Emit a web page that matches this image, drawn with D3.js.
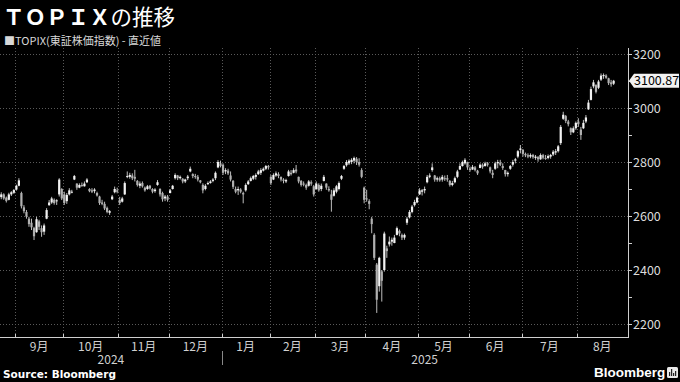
<!DOCTYPE html>
<html>
<head>
<meta charset="utf-8" />
<script src="https://d3js.org/d3.v7.min.js"></script>
<style>
  body { margin: 0; background: #000; }
  svg { display: block; font-family: "Noto Sans CJK JP", "Noto Sans", sans-serif; }
  .grid line { stroke: #5a5a5a; stroke-dasharray: 1,2; }
  .axis-line { stroke: #cfcfcf; stroke-width: 1; }
</style>
</head>
<body>
<svg id="chart" width="680" height="382"></svg>
<script>
// month labels and how many trading days each month has in view
var monthLabels = ["8月", "9月", "10月", "11月", "12月", "1月", "2月", "3月", "4月", "5月", "6月", "7月", "8月"];
var monthDays = [6, 19, 22, 20, 21, 19, 18, 20, 21, 20, 21, 22, 15];
var yearLabels = ["2024", "2025"];
var yearStartMonth = [0, 5];

var yTicks = [2200, 2400, 2600, 2800, 3000, 3200];
var yMinorTicks = [2300, 2500, 2700, 2900, 3100];
var lastValue = 3100.87;

// daily candles [open, high, low, close], Aug 23 2024 - Aug 22 2025
var ohlc = [
  // Aug
  [2670,2688,2662,2680],[2680,2684,2660,2665],[2668,2672,2650,2656],[2660,2686,2658,2680],[2680,2692,2674,2688],[2686,2700,2682,2696],
  // Sep
  [2698,2716,2694,2712],[2712,2740,2710,2732],[2685,2690,2628,2636],[2632,2640,2610,2618],[2615,2622,2590,2598],
  [2590,2597,2560,2570],[2575,2590,2548,2558],[2555,2560,2511,2525],[2540,2597,2538,2588],[2580,2586,2548,2560],
  [2555,2565,2523,2540],[2542,2572,2530,2565],[2590,2629,2588,2622],[2640,2659,2638,2650],
  [2650,2671,2645,2665],[2660,2665,2642,2648],[2655,2662,2641,2658],[2680,2740,2672,2735],[2700,2703,2659,2665],
  // Oct
  [2680,2690,2641,2648],[2655,2685,2645,2678],[2680,2703,2676,2695],[2690,2697,2684,2690],
  [2735,2752,2733,2748],[2720,2721,2697,2705],[2705,2721,2703,2715],[2715,2724,2708,2712],[2710,2728,2709,2720],
  [2725,2740,2722,2735],[2700,2703,2688,2692],[2695,2703,2685,2690],[2692,2703,2684,2698],
  [2685,2690,2672,2676],[2672,2675,2641,2648],[2650,2660,2640,2645],[2645,2653,2622,2628],[2630,2635,2610,2615],
  [2612,2622,2604,2618],[2662,2678,2659,2672],[2688,2709,2684,2700],[2695,2705,2684,2690],
  // Nov
  [2660,2671,2641,2648],[2653,2671,2650,2665],[2680,2728,2678,2722],[2745,2765,2740,2748],[2745,2760,2738,2752],
  [2750,2758,2733,2740],[2745,2771,2728,2738],[2730,2733,2709,2715],[2712,2728,2703,2720],[2722,2728,2705,2710],
  [2705,2709,2690,2695],[2700,2715,2697,2710],[2712,2715,2698,2702],[2700,2703,2684,2690],[2692,2703,2686,2698],
  [2715,2733,2712,2725],[2700,2703,2672,2680],[2685,2690,2653,2662],[2665,2678,2655,2672],[2672,2678,2653,2660],
  // Dec
  [2685,2700,2684,2695],[2700,2715,2698,2712],[2740,2758,2735,2752],[2750,2752,2733,2740],[2740,2750,2735,2745],
  [2738,2740,2721,2728],[2728,2738,2722,2735],[2740,2752,2733,2746],[2765,2783,2762,2775],[2755,2758,2740,2748],
  [2748,2756,2738,2745],[2745,2752,2728,2735],[2732,2733,2721,2725],[2715,2721,2684,2695],[2700,2718,2695,2712],
  [2718,2728,2715,2722],[2722,2733,2720,2728],[2730,2740,2725,2735],[2740,2765,2733,2760],[2780,2807,2777,2800],
  [2795,2805,2780,2785],
  // Jan
  [2790,2795,2752,2760],[2765,2777,2755,2770],[2768,2775,2752,2758],[2750,2765,2728,2735],[2730,2733,2700,2708],
  [2700,2709,2684,2690],[2695,2709,2678,2700],[2698,2703,2684,2690],[2685,2690,2647,2680],
  [2695,2721,2690,2715],[2718,2733,2715,2728],[2730,2746,2728,2740],[2738,2752,2733,2748],[2745,2758,2735,2752],
  [2755,2771,2752,2765],[2760,2777,2752,2770],[2768,2780,2765,2775],[2775,2789,2770,2785],[2785,2789,2772,2780],
  // Feb
  [2745,2752,2715,2722],[2735,2758,2733,2752],[2750,2765,2745,2758],[2755,2762,2740,2748],[2745,2746,2728,2735],
  [2735,2740,2721,2730],[2728,2738,2722,2733],[2748,2771,2746,2765],[2760,2770,2750,2755],
  [2760,2777,2758,2770],[2772,2789,2758,2765],[2745,2746,2721,2728],[2730,2733,2709,2715],[2720,2728,2710,2718],
  [2715,2720,2697,2705],[2712,2733,2709,2728],[2725,2732,2712,2720],[2710,2715,2672,2680],
  // Mar
  [2700,2728,2697,2720],[2715,2721,2690,2695],[2700,2720,2692,2712],[2730,2752,2728,2745],[2720,2721,2697,2705],
  [2700,2710,2690,2695],[2680,2697,2616,2660],[2675,2703,2672,2695],[2690,2715,2684,2710],[2700,2728,2695,2722],
  [2738,2752,2733,2748],[2775,2789,2771,2785],[2788,2807,2783,2800],[2795,2810,2789,2805],
  [2800,2814,2792,2808],[2805,2820,2795,2815],[2812,2818,2789,2800],[2800,2814,2783,2790],[2770,2777,2740,2745],
  [2705,2709,2647,2660],
  // Apr
  [2665,2697,2653,2662],[2655,2662,2625,2645],[2590,2597,2536,2570],[2530,2536,2437,2445],
  [2420,2426,2241,2290],[2340,2449,2320,2445],[2395,2400,2283,2360],[2400,2542,2394,2535],[2480,2490,2445,2470],
  [2495,2524,2487,2505],[2505,2520,2490,2512],[2500,2530,2499,2520],[2530,2561,2528,2555],[2545,2550,2525,2535],
  [2530,2535,2511,2520],[2520,2535,2512,2530],[2575,2597,2567,2590],[2595,2622,2591,2615],[2615,2641,2610,2635],
  [2640,2660,2635,2652],[2650,2672,2647,2668],
  // May
  [2680,2703,2678,2695],[2690,2700,2676,2695],[2695,2709,2684,2700],[2725,2752,2721,2745],[2745,2758,2740,2750],
  [2770,2795,2764,2780],[2750,2752,2727,2735],[2735,2746,2727,2740],[2740,2746,2727,2732],[2735,2752,2727,2745],
  [2740,2750,2730,2738],[2740,2752,2727,2735],[2730,2733,2709,2715],[2715,2730,2710,2722],[2725,2746,2721,2740],
  [2745,2771,2740,2765],[2772,2795,2771,2785],[2785,2805,2783,2800],[2795,2814,2790,2808],[2800,2801,2771,2780],
  // Jun
  [2775,2783,2764,2770],[2772,2789,2771,2782],[2780,2785,2765,2770],[2768,2771,2752,2758],[2778,2795,2777,2790],
  [2790,2795,2775,2782],[2785,2801,2783,2795],[2795,2800,2783,2790],[2780,2783,2758,2765],[2760,2771,2740,2752],
  [2775,2801,2771,2795],[2795,2808,2777,2800],[2798,2808,2785,2790],[2785,2795,2771,2778],[2770,2771,2746,2755],
  [2755,2765,2746,2760],[2775,2789,2771,2785],[2790,2808,2783,2800],[2805,2815,2795,2810],[2820,2844,2814,2840],
  [2845,2863,2832,2850],
  // Jul
  [2845,2848,2820,2830],[2830,2835,2818,2825],[2825,2832,2814,2820],[2820,2832,2814,2826],
  [2826,2830,2812,2818],[2815,2826,2808,2820],[2818,2822,2801,2810],[2810,2832,2808,2826],[2825,2830,2810,2816],
  [2815,2826,2808,2812],[2815,2828,2810,2822],[2820,2830,2812,2826],[2828,2844,2822,2838],[2835,2848,2826,2840],
  [2840,2863,2835,2858],[2870,2937,2863,2930],[2960,2986,2956,2975],[2970,2974,2944,2952],
  [2950,2956,2932,2940],[2925,2928,2900,2910],[2910,2932,2907,2925],[2925,2950,2919,2945],
  // Aug
  [2950,2962,2930,2940],[2920,2930,2882,2900],[2925,2956,2922,2945],[2950,2974,2944,2965],[2995,3030,2993,3020],
  [3030,3079,3028,3070],[3080,3104,3073,3095],[3085,3088,3054,3060],[3075,3104,3070,3098],[3105,3128,3100,3120],
  [3118,3128,3108,3122],[3120,3125,3108,3112],[3110,3112,3085,3092],[3095,3104,3079,3088],[3090,3104,3085,3100.87]
];

var svg = d3.select("#chart");
var plotLeft = 0, plotRight = 628, plotTop = 48, plotBottom = 337;
var totalSlots = 249;

var x = d3.scaleLinear().domain([0, totalSlots]).range([plotLeft, plotRight - 0.5]);
var y = d3.scaleLinear().domain([2200, 3200]).range([324, 54]);

// month boundaries (trading-day index where each month starts)
var monthStart = [];
var acc = 0;
monthDays.forEach(function(n) { monthStart.push(acc); acc += n; });

// title
var title = svg.append("text").attr("x", 3).attr("y", 25).attr("fill", "#fff").attr("font-size", 21.5);
title.append("tspan").attr("font-weight", "bold").text("ＴＯＰＩＸ");
title.append("tspan").text("の推移");

svg.append("text").attr("x", 4).attr("y", 45)
  .attr("fill", "#d8d8d8").attr("font-size", 11)
  .text("■TOPIX(東証株価指数) - 直近値");

// grid
var grid = svg.append("g").attr("class", "grid");
grid.selectAll(".hg").data(yTicks).enter().append("line")
  .attr("x1", plotLeft).attr("x2", plotRight)
  .attr("y1", function(d) { return Math.round(y(d)) + 0.5; })
  .attr("y2", function(d) { return Math.round(y(d)) + 0.5; });
grid.selectAll(".vg").data(monthStart.slice(1)).enter().append("line")
  .attr("x1", function(d) { return Math.round(x(d)) + 0.5; })
  .attr("x2", function(d) { return Math.round(x(d)) + 0.5; })
  .attr("y1", plotTop).attr("y2", plotBottom);

// candles
var candle = svg.append("g").selectAll("g").data(ohlc).enter().append("g");
candle.append("line")
  .attr("x1", function(d, i) { return x(i + 0.5); })
  .attr("x2", function(d, i) { return x(i + 0.5); })
  .attr("y1", function(d) { return y(d[1]); })
  .attr("y2", function(d) { return y(d[2]); })
  .attr("stroke", "#bdbdbd").attr("stroke-width", 1);
candle.append("rect")
  .attr("x", function(d, i) { return x(i + 0.5) - 1.1; })
  .attr("width", 2.2)
  .attr("y", function(d) { return y(Math.max(d[0], d[3])); })
  .attr("height", function(d) { return Math.max(1, Math.abs(y(d[0]) - y(d[3]))); })
  .attr("fill", function(d) { return d[3] >= d[0] ? "#f2f2f2" : "#b0b0b0"; });

// x axis
svg.append("line").attr("class", "axis-line")
  .attr("x1", plotLeft).attr("x2", plotRight + 0.5)
  .attr("y1", plotBottom + 0.5).attr("y2", plotBottom + 0.5);
svg.append("g").selectAll("line").data(monthStart.slice(1)).enter().append("line")
  .attr("class", "axis-line")
  .attr("x1", function(d) { return Math.round(x(d)) + 0.5; })
  .attr("x2", function(d) { return Math.round(x(d)) + 0.5; })
  .attr("y1", plotBottom - 3).attr("y2", plotBottom);

var monthEnds = monthStart.slice(1).concat([totalSlots]);
svg.append("g").selectAll("text").data(monthLabels).enter()
  .filter(function(d, i) { return i > 0; })
  .append("text")
  .attr("x", function(d, i) { return (x(monthStart[i + 1]) + x(monthEnds[i + 1])) / 2; })
  .attr("y", 351)
  .attr("text-anchor", "middle")
  .attr("fill", "#d0d0d0").attr("font-size", 12)
  .text(function(d) { return d; });

var yearEnds = [monthStart[yearStartMonth[1]], totalSlots];
svg.append("g").selectAll("text").data(yearLabels).enter().append("text")
  .attr("x", function(d, i) { return (x(monthStart[yearStartMonth[i]]) + x(yearEnds[i])) / 2; })
  .attr("y", 364)
  .attr("text-anchor", "middle")
  .attr("fill", "#d0d0d0").attr("font-size", 12)
  .text(function(d) { return d; });
svg.append("line").attr("stroke", "#888")
  .attr("x1", Math.round(x(monthStart[yearStartMonth[1]])) + 0.5)
  .attr("x2", Math.round(x(monthStart[yearStartMonth[1]])) + 0.5)
  .attr("y1", 351).attr("y2", 365);

// y axis
svg.append("line").attr("class", "axis-line")
  .attr("x1", plotRight + 0.5).attr("x2", plotRight + 0.5)
  .attr("y1", plotTop).attr("y2", plotBottom + 1);
svg.append("g").selectAll("line").data(yTicks.concat(yMinorTicks)).enter().append("line")
  .attr("class", "axis-line")
  .attr("x1", plotRight).attr("x2", plotRight + 4)
  .attr("y1", function(d) { return Math.round(y(d)) + 0.5; })
  .attr("y2", function(d) { return Math.round(y(d)) + 0.5; });
svg.append("g").selectAll("text").data(yTicks).enter().append("text")
  .attr("x", 633)
  .attr("y", function(d) { return y(d) + 4.5; })
  .attr("fill", "#dcdcdc").attr("font-size", 12.5)
  .text(function(d) { return d; });

// last value tag
var ly = y(lastValue);
svg.append("path")
  .attr("d", "M" + (plotRight + 1) + "," + ly + " L" + (plotRight + 6) + "," + (ly - 7) +
        " L679," + (ly - 7) + " L679," + (ly + 7) + " L" + (plotRight + 6) + "," + (ly + 7) + "Z")
  .attr("fill", "#f2f2f2");
svg.append("text").attr("x", 634).attr("y", ly + 4.5)
  .attr("fill", "#000").attr("font-size", 12.5)
  .text(d3.format(".2f")(lastValue));

// footer
svg.append("text").attr("x", 3).attr("y", 378)
  .attr("fill", "#fff").attr("font-size", 10.5).attr("font-weight", "bold")
  .attr("font-family", "DejaVu Sans")
  .text("Source: Bloomberg");
svg.append("text").attr("x", 594).attr("y", 377)
  .attr("fill", "#fff").attr("font-size", 13.5).attr("font-weight", "bold")
  .attr("font-family", "Liberation Sans")
  .text("Bloomberg");
var logo = svg.append("g").attr("transform", "translate(667,367)");
logo.append("rect").attr("width", 11).attr("height", 11).attr("rx", 1.5).attr("fill", "#e8e8e8");
logo.selectAll(".bar").data([4, 7, 3, 5]).enter().append("rect")
  .attr("x", function(d, i) { return 2 + i * 2; })
  .attr("y", function(d) { return 9 - d; })
  .attr("width", 1.2).attr("height", function(d) { return d; })
  .attr("fill", "#222");
</script>
</body>
</html>
